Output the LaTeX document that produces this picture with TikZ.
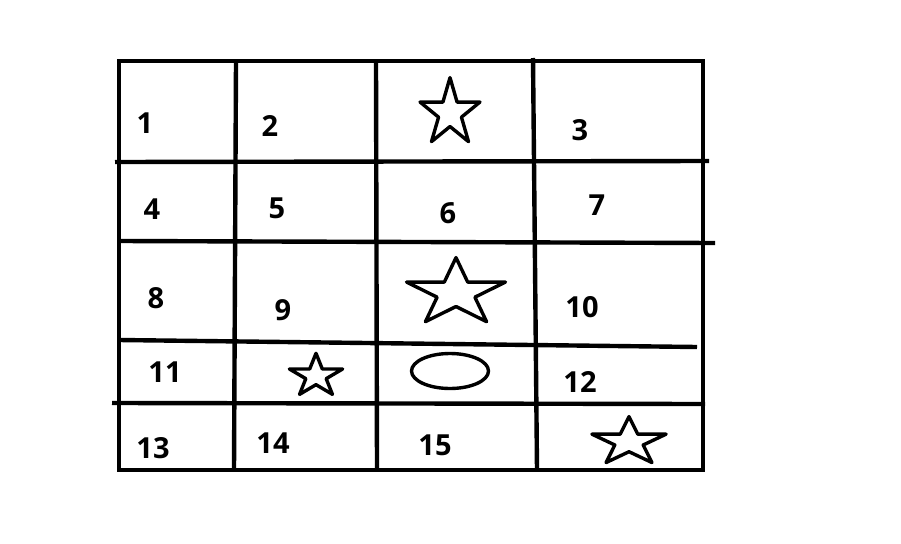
\documentclass[tikz,border=0pt]{standalone}
\usepackage{fontspec}
\setmainfont{Open Sans}
\usetikzlibrary{calc}
\begin{document}
\begin{tikzpicture}[x=1pt,y=-1pt,
  gridline/.style={line width=4.4pt},
  shapeline/.style={line width=3.4pt,line join=round},
  lbl/.style={font=\fontsize{29}{29}\selectfont\bfseries,inner sep=0pt}]
\useasboundingbox (0,0) rectangle (901,543);
% outer frame
\draw[gridline,line join=miter] (119,61) -- (703,61) -- (703,470) -- (119,470) -- cycle;
% vertical lines
\draw[gridline] (236,61) -- (234,470);
\draw[gridline] (376,63) -- (377,470);
\draw[gridline] (533,58) -- (537,470);
% horizontal lines
\draw[gridline] (115,162) -- (709,161);
\draw[gridline] (119,241) -- (715,243);
\draw[gridline] (119,340) -- (697,347);
\draw[gridline] (112,403) -- (705,404);
% stars
\foreach \cx/\cy/\rx/\ry in {450/113/31.5/35.4, 456/293/52/35.4, 316/376/28/22.7, 629/442/39/25.4}{
  \draw[shapeline,fill=white]
    (\cx,\cy-\ry)
    \foreach \k in {1,...,9}{
      -- ($(\cx,\cy)+({(0.382+0.618*(1-mod(\k,2)))*\rx*sin(36*\k)},{-(0.382+0.618*(1-mod(\k,2)))*\ry*cos(36*\k)})$)
    } -- cycle;
}
% ellipse
\draw[shapeline] (450,371) ellipse [x radius=38.5, y radius=17.5];
% labels
\node[lbl] (n1) at (145,123) {1};
\node[lbl] (n2) at (270,126) {2};
\node[lbl] (n3) at (580,130) {3};
\node[lbl] (n4) at (152,209) {4};
\node[lbl] (n5) at (277,208) {5};
\node[lbl] (n6) at (448,213) {6};
\node[lbl] (n7) at (597,205) {7};
\node[lbl] (n8) at (156,298) {8};
\node[lbl] (n9) at (283,310) {9};
\node[lbl] (n10) at (582,307) {10};
\node[lbl] (n11) at (165,372) {11};
\node[lbl] (n12) at (580,382) {12};
\node[lbl] (n13) at (153,448) {13};
\node[lbl] (n14) at (273,443) {14};
\node[lbl] (n15) at (435,445) {15};
\end{tikzpicture}
\end{document}
